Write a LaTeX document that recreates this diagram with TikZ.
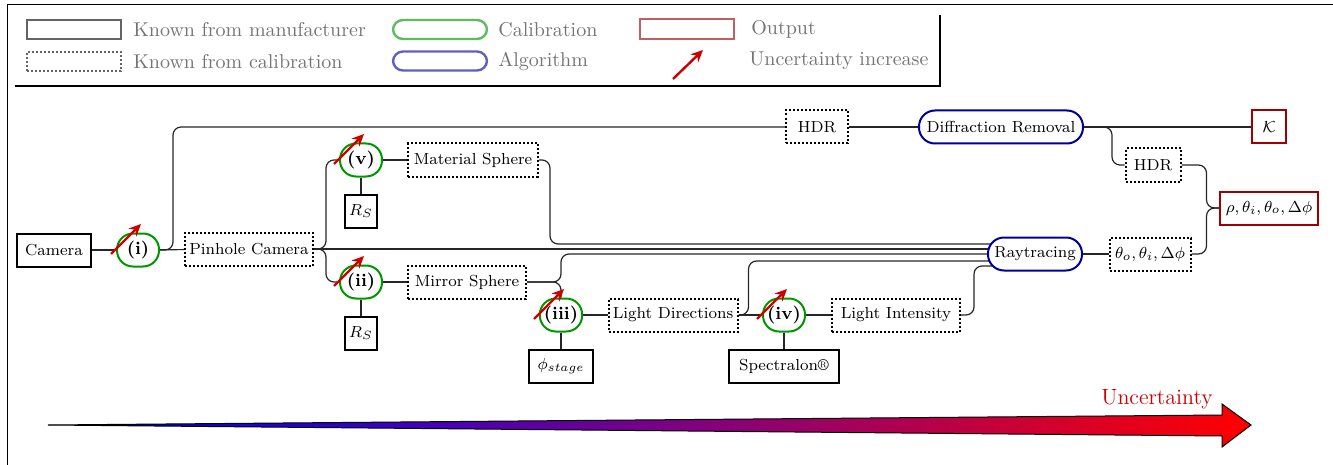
\documentclass[tikz,border=0pt]{standalone}
\usetikzlibrary{calc,backgrounds,arrows.meta}
\definecolor{calgreen}{RGB}{0,150,0}
\definecolor{algblue}{RGB}{0,0,150}
\definecolor{outred}{RGB}{160,0,0}
\definecolor{uncred}{RGB}{205,0,0}
\definecolor{leggreen}{RGB}{95,185,95}
\definecolor{legblue}{RGB}{95,95,190}
\definecolor{legred}{RGB}{192,95,95}
\definecolor{leggray}{RGB}{100,100,100}
\definecolor{legtext}{RGB}{115,115,115}
\pgfdeclarehorizontalshading{uncshade}{100bp}{color(0bp)=(black); color(25bp)=(black); color(29bp)=(blue!85!black); color(33bp)=(blue!90!red); color(75bp)=(red); color(100bp)=(red)}
\begin{document}
\begin{tikzpicture}[x=0.5pt,y=-0.5pt,
  base/.style={minimum height=16.5pt, inner sep=2pt, fill=white, font=\fontsize{8}{10}\selectfont},
  manu/.style={base, draw=black, line width=1pt},
  calib/.style={base, draw=black, line width=1pt, dash pattern=on 1pt off 1pt},
  cal/.style={base, draw=calgreen, line width=1pt, rounded corners=8pt, minimum width=21pt, font=\fontsize{9}{11}\selectfont\bfseries},
  alg/.style={base, draw=algblue, line width=1pt, rounded corners=8pt},
  outp/.style={base, draw=outred, line width=1pt},
  conn/.style={draw=black!85, line width=0.6pt, rounded corners=4pt},
  unc/.style={draw=uncred, line width=1.2pt, -{Stealth[length=6pt,width=5.5pt]}},
  legtxt/.style={anchor=west, text=legtext, inner sep=0pt},
]
\useasboundingbox (0,0) rectangle (1333,465);

% frame
\draw[line width=0.5pt] (7,465) -- (7,5) -- (1333,5);

% legend
\node[draw=leggray, line width=1.2pt, minimum width=47pt, minimum height=9.5pt, inner sep=0pt] (lg1) at (74,29.5) {};
\node[draw=leggray, line width=1pt, dash pattern=on 1pt off 1pt, minimum width=47pt, minimum height=9.5pt, inner sep=0pt] (lg2) at (74,61.5) {};
\node[legtxt] (lt1) at (133,30) {Known from manufacturer};
\node[legtxt] (lt2) at (133,62) {Known from calibration};
\node[draw=leggreen, line width=1.2pt, rounded corners=5pt, minimum width=47pt, minimum height=9.5pt, inner sep=0pt] (lg3) at (440,29.5) {};
\node[draw=legblue, line width=1.2pt, rounded corners=5pt, minimum width=47pt, minimum height=9.5pt, inner sep=0pt] (lg4) at (440,61) {};
\node[legtxt] (lt3) at (498,30) {Calibration};
\node[legtxt] (lt4) at (498,61) {Algorithm};
\node[draw=legred, line width=1.2pt, minimum width=47pt, minimum height=10pt, inner sep=0pt] (lg5) at (687,29) {};
\node[legtxt] (lt5) at (751,29) {Output};
\coordinate (la1) at (673,79);
\coordinate (la2) at (703,50);
\draw[unc] (la1) -- (la2);
\node[legtxt] (lt6) at (749,61) {Uncertainty increase};
\draw[line width=1.3pt] (15,86) -- (940,86) -- (940,15);

% main nodes
\node[manu, minimum width=37pt] (cam) at (54,250) {Camera};
\node[cal] (c1) at (138,250) {(i)};
\node[calib, minimum width=64pt] (pin) at (249,249) {Pinhole Camera};
\node[cal] (c5) at (361,160) {(v)};
\node[manu, minimum width=16pt] (rs1) at (361,211) {$R_S$};
\node[calib, minimum width=65pt] (mat) at (473,160) {Material Sphere};
\node[cal] (c2) at (361,282) {(ii)};
\node[manu, minimum width=16pt] (rs2) at (361,333) {$R_S$};
\node[calib, minimum width=59pt] (mir) at (467,282) {Mirror Sphere};
\node[cal] (c3) at (561,315) {(iii)};
\node[manu, minimum width=32pt] (phi) at (561,366) {$\phi_{stage}$};
\node[calib, minimum width=64.5pt] (ld) at (673,315) {Light Directions};
\node[cal] (c4) at (784,315) {(iv)};
\node[manu, minimum width=55pt] (spec) at (784,366) {Spectralon\textregistered};
\node[calib, minimum width=64pt] (li) at (896,315) {Light Intensity};
\node[calib, minimum width=31pt] (hdr1) at (817,127) {HDR};
\node[alg, minimum width=82pt] (dr) at (1001,127) {Diffraction Removal};
\node[outp, minimum width=17pt] (k) at (1269,127) {$\mathcal{K}$};
\node[calib, minimum width=27.5pt] (hdr2) at (1153,165) {HDR};
\node[outp, minimum width=49pt] (out) at (1269,208) {$\rho,\theta_i,\theta_o,\Delta\phi$};
\node[alg, minimum width=47pt] (rt) at (1035,254) {Raytracing};
\node[calib, minimum width=40.5pt] (th) at (1150,254) {$\theta_o,\theta_i,\Delta\phi$};

% connectors
\begin{scope}[on background layer]
\draw[conn] (cam) -- (c1);
\draw[conn] (c1) -- (pin);
\draw[conn] (c1.east) -- ++(13,0) |- (hdr1.west);
\draw[conn] (hdr1) -- (dr);
\draw[conn] (dr) -- (k);
\draw[conn] (dr.east) -- ++(28,0) |- (hdr2.west);
\draw[conn] (hdr2.east) -- ++(25,0) |- (out.west);
\draw[conn] (th.east) -- ++(15,0) |- (out.west);
\draw[conn] (rt) -- (th);
\draw[conn] (pin.east) -- ++(12,0) |- (c5.west);
\draw[conn] (pin.east) -- ++(12,0) |- (c2.west);
\draw[conn] (pin.east) -- (pin.east -| rt.center);
\draw[conn] (c5) -- (mat);
\draw[conn] (c5) -- (rs1);
\draw[conn] (c2) -- (mir);
\draw[conn] (c2) -- (rs2);
\draw[conn] (mat.east) -- ++(11,0) |- ($(rt.center)+(0,-10)$);
\draw[conn] (mir.east) -| (c3.north);
\draw[conn] (mir.east) -- (c3.north |- mir.east) |- (rt.center);
\draw[conn] (c3) -- (ld);
\draw[conn] (c3) -- (phi);
\draw[conn] (ld) -- (c4);
\draw[conn] (ld.east) -- ++(10,0) |- ($(rt.center)+(0,7)$);
\draw[conn] (c4) -- (li);
\draw[conn] (c4) -- (spec);
\draw[conn] (li.east) -- ++(13,0) |- ($(rt.center)+(0,12)$);
\end{scope}

% uncertainty increase arrows
\foreach \n in {c1,c2,c3,c4,c5}{
  \draw[unc] ([shift={(-27,4)}]\n.center) -- ([shift={(3,-26)}]\n.center);
}

% uncertainty gradient arrow
\coordinate (ga) at (48,425);
\shadedraw[shading=uncshade, draw=black, line width=0.5pt] (ga) -- (1222,415) -- (1222,404) -- (1251,425) -- (1222,447) -- (1222,436) -- cycle;
\node[text=uncred, font=\fontsize{11}{13}\selectfont, inner sep=0pt] (ut) at (1157,399) {Uncertainty};
\end{tikzpicture}
\end{document}
